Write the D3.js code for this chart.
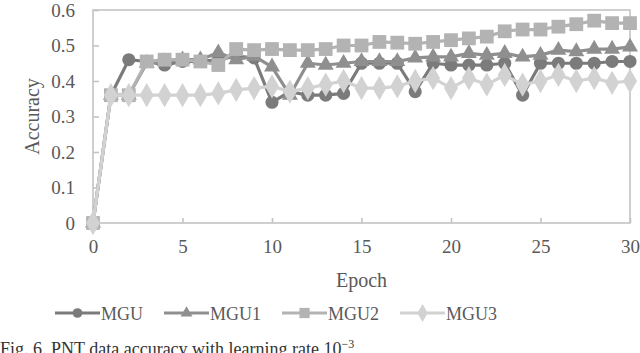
<!DOCTYPE html>
<html>
<head>
<meta charset="utf-8">
<script src="https://cdn.jsdelivr.net/npm/d3@7"></script>
<style>
  body { margin: 0; background: #fff; }
  svg text { font-family: "Liberation Serif", "Times New Roman", Times, "DejaVu Serif", serif; }
</style>
</head>
<body>
<div id="chart"></div>
<script>
// Données
const epochs = d3.range(0, 31);
const seriesNames = ["MGU", "MGU1", "MGU2", "MGU3"];
const mgu  = [0, 0.36, 0.46, 0.455, 0.445, 0.455, 0.455, 0.46, 0.47, 0.465, 0.34, 0.37, 0.36, 0.36, 0.365, 0.45,
              0.45, 0.45, 0.37, 0.45, 0.445, 0.445, 0.445, 0.45, 0.36, 0.45, 0.45, 0.45, 0.45, 0.455, 0.455];
const mgu1 = [0, 0.36, 0.36, 0.45, 0.455, 0.46, 0.46, 0.48, 0.46, 0.47, 0.44, 0.36, 0.45, 0.445, 0.45, 0.455,
              0.455, 0.455, 0.465, 0.468, 0.468, 0.478, 0.473, 0.478, 0.468, 0.473, 0.487, 0.483, 0.49, 0.49, 0.496];
const mgu2 = [0, 0.36, 0.36, 0.455, 0.46, 0.46, 0.455, 0.445, 0.49, 0.487, 0.49, 0.487, 0.487, 0.49, 0.5, 0.5,
              0.51, 0.508, 0.505, 0.51, 0.515, 0.52, 0.525, 0.54, 0.545, 0.545, 0.553, 0.56, 0.57, 0.563, 0.563];
const mgu3 = [0, 0.36, 0.36, 0.36, 0.36, 0.36, 0.36, 0.365, 0.375, 0.38, 0.385, 0.37, 0.38, 0.39, 0.4, 0.38,
              0.38, 0.385, 0.4, 0.408, 0.38, 0.408, 0.39, 0.417, 0.39, 0.4, 0.417, 0.4, 0.408, 0.395, 0.4];
const xTicks = [0, 5, 10, 15, 20, 25, 30];
const yTicks = [0, 0.1, 0.2, 0.3, 0.4, 0.5, 0.6];

const allValues = [mgu, mgu1, mgu2, mgu3];
const colors = ["#7b7b7b", "#8f8f8f", "#b3b3b3", "#d2d2d2"];
const symbols = [d3.symbolCircle, d3.symbolTriangle, d3.symbolSquare, d3.symbolDiamond];
const symbolSizes = [135, 110, 190, 170];

const series = seriesNames.map((name, i) => ({
  name: name,
  color: colors[i],
  symbol: symbols[i],
  size: symbolSizes[i],
  values: epochs.map((e, j) => ({x: e, y: allValues[i][j]}))
}));

const serif = "'Liberation Serif', 'Times New Roman', Times, 'DejaVu Serif', serif";

// Dimensions
const width = 640;
const height = 353;
const margin = {top: 10, right: 10, bottom: 130, left: 93};

const svg = d3.select("#chart")
  .append("svg")
  .attr("width", width)
  .attr("height", height)
  .attr("font-family", serif);

const xScale = d3.scaleLinear().domain([0, 30]).range([margin.left, width - margin.right]);
const yScale = d3.scaleLinear().domain([0, 0.6]).range([height - margin.bottom, margin.top]);

// Cadre
svg.append("rect")
  .attr("x", xScale(0))
  .attr("y", yScale(0.6))
  .attr("width", xScale(30) - xScale(0))
  .attr("height", yScale(0) - yScale(0.6))
  .attr("fill", "none")
  .attr("stroke", "#c4c4c4")
  .attr("stroke-width", 1.6);

// Axes
const xAxis = svg.append("g")
  .attr("transform", `translate(0, ${yScale(0)})`)
  .call(d3.axisBottom(xScale).tickValues(xTicks).tickSize(-5).tickPadding(17).tickFormat(d3.format("d")));

const yAxis = svg.append("g")
  .attr("transform", `translate(${xScale(0)}, 0)`)
  .call(d3.axisLeft(yScale).tickValues(yTicks).tickSize(-6).tickPadding(18).tickFormat(d => d === 0 ? "0" : d3.format(".1f")(d)));

[xAxis, yAxis].forEach(g => {
  g.attr("font-family", serif).attr("font-size", 19);
  g.select(".domain").remove();
  g.selectAll(".tick line").attr("stroke", "#c4c4c4").attr("stroke-width", 1.6);
  g.selectAll("text").attr("fill", "#595959");
});

// Titres d'axes
svg.append("text")
  .attr("x", xScale(15))
  .attr("y", 287)
  .attr("text-anchor", "middle")
  .attr("font-size", 20)
  .attr("fill", "#595959")
  .text("Epoch");

svg.append("text")
  .attr("transform", `translate(39, ${yScale(0.3)}) rotate(-90)`)
  .attr("text-anchor", "middle")
  .attr("font-size", 20)
  .attr("fill", "#595959")
  .text("Accuracy");

// Courbes
const line = d3.line().x(d => xScale(d.x)).y(d => yScale(d.y));

const groups = svg.selectAll(".serie")
  .data(series)
  .enter()
  .append("g")
  .attr("class", "serie");

groups.append("path")
  .attr("d", d => line(d.values))
  .attr("fill", "none")
  .attr("stroke", d => d.color)
  .attr("stroke-width", 3.2)
  .attr("stroke-linejoin", "round");

groups.each(function(s) {
  d3.select(this).selectAll(".pt")
    .data(s.values)
    .enter()
    .append("path")
    .attr("class", "pt")
    .attr("transform", d => `translate(${xScale(d.x)}, ${yScale(d.y)})`)
    .attr("d", d3.symbol().type(s.symbol).size(s.size))
    .attr("fill", s.color);
});

// Légende
const legend = svg.append("g").attr("transform", "translate(55, 313)");
let cursor = 0;
series.forEach(s => {
  const item = legend.append("g").attr("transform", `translate(${cursor}, 0)`);
  item.append("line")
    .attr("x1", 0).attr("x2", 45)
    .attr("y1", 0).attr("y2", 0)
    .attr("stroke", s.color)
    .attr("stroke-width", 3.2);
  item.append("path")
    .attr("transform", "translate(22.5, 0)")
    .attr("d", d3.symbol().type(s.symbol).size(s.size * 0.55))
    .attr("fill", s.color);
  const label = item.append("text")
    .attr("x", 46)
    .attr("y", 6.5)
    .attr("font-size", 18)
    .attr("fill", "#595959")
    .text(s.name);
  cursor += 46 + label.node().getComputedTextLength() + 21;
});

// Légende de la figure (coupée en bas comme sur l'original)
const caption = svg.append("text")
  .attr("x", 0)
  .attr("y", 355)
  .attr("font-size", 18)
  .attr("fill", "#333")
  .text("Fig. 6. PNT data accuracy with learning rate 10");
caption.append("tspan")
  .attr("dy", -7)
  .attr("font-size", 12)
  .text("−3");
</script>
</body>
</html>
